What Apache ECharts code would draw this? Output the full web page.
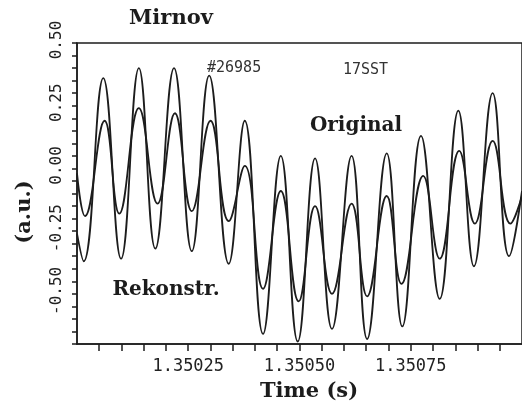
<!DOCTYPE html>
<html>
<head>
<meta charset="utf-8">
<script src="https://cdn.jsdelivr.net/npm/echarts@6/dist/echarts.min.js"></script>
<style>
  html, body { margin: 0; padding: 0; background: #ffffff; }
  #chart { width: 522px; height: 413px; }
</style>
</head>
<body>
<div id="chart"></div>
<script>
// Time (s) and amplitude (a.u.) at extrema of each curve
var timeOriginal = [1.350000, 1.350015, 1.350059, 1.350099, 1.350139, 1.350176, 1.350218, 1.350258,
  1.350297, 1.350341, 1.350377, 1.350418, 1.350458, 1.350496, 1.350535, 1.350573, 1.350617,
  1.350652, 1.350696, 1.350731, 1.350773, 1.350815, 1.350857, 1.350892, 1.350934, 1.350971, 1.351000];
var valuesOriginal = [-0.26, -0.37, 0.36, -0.36, 0.40, -0.32, 0.40, -0.33,
  0.37, -0.38, 0.19, -0.66, 0.05, -0.69, 0.04, -0.64, 0.05,
  -0.68, 0.06, -0.63, 0.13, -0.52, 0.23, -0.39, 0.30, -0.35, -0.09];

var timeRekonstr = [1.350000, 1.350018, 1.350062, 1.350095, 1.350139, 1.350181, 1.350220, 1.350258,
  1.350300, 1.350341, 1.350377, 1.350418, 1.350458, 1.350498, 1.350535, 1.350573, 1.350617,
  1.350652, 1.350696, 1.350729, 1.350778, 1.350815, 1.350859, 1.350894, 1.350934, 1.350974, 1.351000];
var valuesRekonstr = [-0.02, -0.19, 0.19, -0.18, 0.24, -0.14, 0.22, -0.17,
  0.19, -0.21, 0.01, -0.48, -0.09, -0.53, -0.15, -0.50, -0.14,
  -0.51, -0.11, -0.46, -0.03, -0.36, 0.07, -0.22, 0.11, -0.22, -0.11];

var xTickLabels = ['1.35025', '1.35050', '1.35075'];
var yTickLabels = ['0.50', '0.25', '0.00', '-0.25', '-0.50'];

function pairs(xs, ys) {
  var out = [];
  for (var i = 0; i < xs.length; i++) out.push([xs[i], ys[i]]);
  return out;
}

var mono = '"DejaVu Sans Mono", "Liberation Mono", monospace';
var serif = '"DejaVu Serif", "Liberation Serif", serif';
var ink = '#1c1c1c';

var chart = echarts.init(document.getElementById('chart'), null, { renderer: 'canvas' });
chart.setOption({
  backgroundColor: '#ffffff',
  animation: false,
  grid: {
    left: 77, top: 43, right: -9, bottom: 69,
    show: true, borderColor: ink, borderWidth: 1.5, backgroundColor: 'transparent'
  },
  xAxis: {
    type: 'value',
    min: 1.35, max: 1.351, interval: 0.00005,
    axisLine: { show: true, onZero: false, lineStyle: { color: ink, width: 1.5 } },
    axisTick: { show: true, inside: false, length: 7, lineStyle: { color: ink, width: 1.5 } },
    splitLine: { show: false },
    axisLabel: {
      margin: 14,
      color: '#222',
      fontFamily: mono,
      fontSize: 17,
      showMinLabel: false, showMaxLabel: false,
      formatter: function (v) {
        var s = v.toFixed(5);
        return xTickLabels.indexOf(s) >= 0 ? s : '';
      }
    }
  },
  yAxis: {
    type: 'value',
    min: -0.7, max: 0.5, interval: 0.05,
    axisLine: { show: true, onZero: false, lineStyle: { color: ink, width: 1.5 } },
    axisTick: { show: true, inside: false, length: 5, lineStyle: { color: ink, width: 1.5 } },
    splitLine: { show: false },
    axisLabel: {
      rotate: 90,
      margin: 12,
      color: '#222',
      fontFamily: mono,
      fontSize: 16,
      padding: [0, 0, 0, 6],
      formatter: function (v) {
        var s = (Math.round(v * 100) / 100).toFixed(2);
        if (s === '-0.00') s = '0.00';
        return yTickLabels.indexOf(s) >= 0 ? s : '';
      }
    }
  },
  series: [
    {
      name: 'Original',
      type: 'line',
      data: pairs(timeOriginal, valuesOriginal),
      smooth: 0.45,
      showSymbol: false,
      lineStyle: { color: ink, width: 1.8 }
    },
    {
      name: 'Rekonstr.',
      type: 'line',
      data: pairs(timeRekonstr, valuesRekonstr),
      smooth: 0.45,
      showSymbol: false,
      lineStyle: { color: ink, width: 1.8 }
    }
  ],
  graphic: [
    { type: 'text', x: 171, y: 19, style: { text: 'Mirnov', align: 'center', verticalAlign: 'middle', textAlign: 'center', textVerticalAlign: 'middle', fontFamily: serif, fontWeight: 'bold', fontSize: 21, fill: ink } },
    { type: 'text', x: 207, y: 68, style: { text: '#26985', align: 'left', verticalAlign: 'middle', textAlign: 'left', textVerticalAlign: 'middle', fontFamily: mono, fontSize: 15, fill: '#333' } },
    { type: 'text', x: 343, y: 70, style: { text: '17SST', align: 'left', verticalAlign: 'middle', textAlign: 'left', textVerticalAlign: 'middle', fontFamily: mono, fontSize: 15, fill: '#333' } },
    { type: 'text', x: 356, y: 126, style: { text: 'Original', align: 'center', verticalAlign: 'middle', textAlign: 'center', textVerticalAlign: 'middle', fontFamily: serif, fontWeight: 'bold', fontSize: 20, fill: ink } },
    { type: 'text', x: 166, y: 290, style: { text: 'Rekonstr.', align: 'center', verticalAlign: 'middle', textAlign: 'center', textVerticalAlign: 'middle', fontFamily: serif, fontWeight: 'bold', fontSize: 20, fill: ink } },
    { type: 'text', x: 309, y: 392, style: { text: 'Time (s)', align: 'center', verticalAlign: 'middle', textAlign: 'center', textVerticalAlign: 'middle', fontFamily: serif, fontWeight: 'bold', fontSize: 21, fill: ink } },
    { type: 'text', x: 25, y: 212, rotation: Math.PI / 2, style: { text: '(a.u.)', align: 'center', verticalAlign: 'middle', textAlign: 'center', textVerticalAlign: 'middle', fontFamily: serif, fontWeight: 'bold', fontSize: 21, fill: ink } }
  ]
});
</script>
</body>
</html>
